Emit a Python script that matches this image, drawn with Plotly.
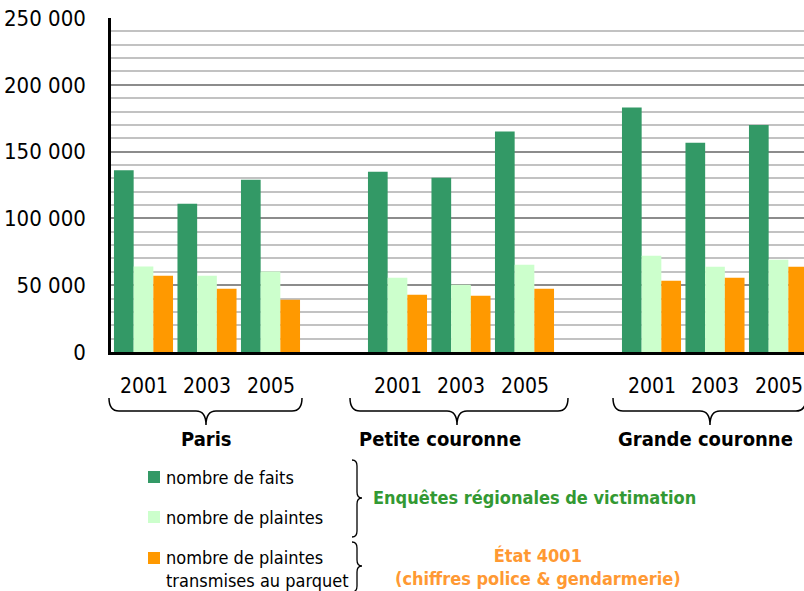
import plotly.graph_objects as go

# ---------------- data ----------------
regions = ["Paris", "Petite couronne", "Grande couronne"]
years = ["2001", "2003", "2005"]
series_names = ["nombre de faits", "nombre de plaintes",
                "nombre de plaintes<br>transmises au parquet"]
series_colors = ["#339966", "#CCFFCC", "#FF9900"]

# values ordered region by region, year by year
faits = [136000, 111000, 129000,
         135000, 130500, 165000,
         183000, 156700, 170000]
plaintes = [64000, 57000, 60300,
            55600, 50400, 65300,
            72100, 63800, 69100]
parquet = [57100, 47400, 39100,
           42900, 42100, 47400,
           53400, 55600, 63800]
series_values = [faits, plaintes, parquet]

y_ticks = [0, 50000, 100000, 150000, 200000, 250000]

source_groups = ["Enquêtes régionales de victimation",
                 "État 4001<br>(chiffres police & gendarmerie)"]
source_colors = ["#339933", "#FF9933"]

# ---------------- layout helpers ----------------
W, H = 804, 591
L, R, T, B = 111, 804, 18, 352
FONT = "DejaVu Sans Condensed, DejaVu Sans, sans-serif"


def px2x(px):
    return (px - L) / (R - L)


def py2y(py):
    return (B - py) / (B - T)


slot = len(years) + 1
x_pos = [g * slot + i for g in range(len(regions)) for i in range(len(years))]
x_labels = [y for _ in regions for y in years]

fig = go.Figure()
for name, vals, col in zip(series_names, series_values, series_colors):
    fig.add_trace(go.Bar(x=x_pos, y=vals, name=name, marker_color=col,
                         marker_line_width=0, showlegend=False))

annotations = []
shapes = []

# year labels under each bar group
for xp, lab in zip(x_pos, x_labels):
    annotations.append(dict(x=xp, xref="x", y=py2y(386), yref="paper",
                            text=lab, showarrow=False, xanchor="center",
                            yanchor="middle",
                            font=dict(family=FONT, size=21, color="#000")))

# region names and horizontal braces
region_text_x = [206, 440, 705]
brace_spans = [(109, 302, 206), (350, 568, 457), (613, 806, 710)]
for name, tx in zip(regions, region_text_x):
    annotations.append(dict(x=px2x(tx), xref="paper", y=py2y(439), yref="paper",
                            text="<b>" + name + "</b>", showarrow=False,
                            xanchor="center", yanchor="middle",
                            font=dict(family=FONT, size=20, color="#000")))


def P(px, py):
    return f"{px2x(px):.5f},{py2y(py):.5f}"


for x0, x1, xc in brace_spans:
    yt, ym, yp, r = 398, 411, 425, 10
    path = (f"M{P(x0, yt)} Q{P(x0, ym)} {P(x0 + r, ym)} L{P(xc - r, ym)} "
            f"Q{P(xc, ym)} {P(xc, yp)} Q{P(xc, ym)} {P(xc + r, ym)} "
            f"L{P(x1 - r, ym)} Q{P(x1, ym)} {P(x1, yt)}")
    shapes.append(dict(type="path", xref="paper", yref="paper", path=path,
                       line=dict(color="#000", width=1.5)))

# custom legend
legend_rows = [477, 517, 569]
for name, col, yr in zip(series_names, series_colors, legend_rows):
    sq_y = yr if "<br>" not in name else 558
    shapes.append(dict(type="rect", xref="paper", yref="paper",
                       x0=px2x(148), x1=px2x(160),
                       y0=py2y(sq_y - 6), y1=py2y(sq_y + 6),
                       fillcolor=col, line=dict(width=0)))
    annotations.append(dict(x=px2x(164), xref="paper", y=py2y(yr), yref="paper",
                            text=name, showarrow=False, xanchor="left",
                            yanchor="middle", align="left",
                            font=dict(family=FONT, size=18, color="#000")))

# vertical braces (pointing right)
vbraces = [(460, 537, 498), (542, 592, 566)]
for y0, y1, yc in vbraces:
    xl, xm, xp, r = 352, 357, 362, 6
    path = (f"M{P(xl, y0)} Q{P(xm, y0)} {P(xm, y0 + r)} L{P(xm, yc - r)} "
            f"Q{P(xm, yc)} {P(xp, yc)} Q{P(xm, yc)} {P(xm, yc + r)} "
            f"L{P(xm, y1 - r)} Q{P(xm, y1)} {P(xl, y1)}")
    shapes.append(dict(type="path", xref="paper", yref="paper", path=path,
                       line=dict(color="#000", width=1.3)))

# source group labels
for txt, col, (cx, cy) in zip(source_groups, source_colors,
                              [(534, 497), (538, 567)]):
    annotations.append(dict(x=px2x(cx), xref="paper", y=py2y(cy), yref="paper",
                            text="<b>" + txt + "</b>", showarrow=False,
                            xanchor="center", yanchor="middle", align="center",
                            font=dict(family=FONT, size=18, color=col)))

slot_px = 63.5
x_lo = -(143.5 - L) / slot_px
x_hi = (R - 143.5) / slot_px

fig.update_layout(
    width=W, height=H, autosize=False,
    margin=dict(l=L, r=W - R, t=T, b=H - B, pad=0),
    paper_bgcolor="white", plot_bgcolor="white",
    barmode="group", bargap=0.07, bargroupgap=0,
    separators=", ",
    font=dict(family=FONT, size=21, color="#000"),
    xaxis=dict(range=[x_lo, x_hi], showticklabels=False, showgrid=False,
               zeroline=False, showline=True, linecolor="#000", linewidth=2.5,
               ticks=""),
    yaxis=dict(range=[0, 250000], tickvals=y_ticks, tickformat=",d",
               showgrid=True, gridcolor="#8c8c8c", gridwidth=2,
               minor=dict(dtick=10000, showgrid=True, gridcolor="#c2c2c2",
                          gridwidth=2),
               zeroline=False, showline=True, linecolor="#000", linewidth=2.5,
               ticks="", ticklabelstandoff=18,
               tickfont=dict(family=FONT, size=22, color="#000")),
    annotations=annotations, shapes=shapes,
)

fig.write_html("out.html",
               config={"displayModeBar": False},
               post_script="document.body.style.margin='0';"
                           "document.body.style.overflow='hidden';")
